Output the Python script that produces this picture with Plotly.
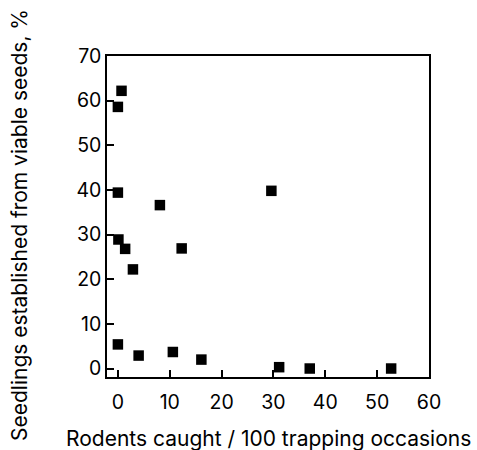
import plotly.graph_objects as go

rodents = [0.7, 0.0, 0.0, 8.1, 0.1, 1.4, 12.3, 2.9, 0.0, 4.0, 10.6, 16.1, 31.1, 29.6, 37.0, 52.7]
seedlings = [62.2, 58.6, 39.4, 36.6, 28.9, 26.8, 26.9, 22.2, 5.4, 2.9, 3.7, 2.0, 0.3, 39.8, 0.0, 0.0]
x_ticks = [0, 10, 20, 30, 40, 50, 60]
y_ticks = [0, 10, 20, 30, 40, 50, 60, 70]

font = "Inter, Liberation Sans, Arial, sans-serif"
tick_size = 19.5
title_size = 21

fig = go.Figure()
fig.add_trace(go.Scatter(
    x=rodents, y=seedlings, mode="markers",
    marker=dict(symbol="square", size=10.5, color="black", line=dict(width=0)),
    showlegend=False, hoverinfo="skip",
))

axis_common = dict(
    showline=True, linecolor="black", linewidth=1.5, mirror=True,
    ticks="inside", ticklen=7, tickwidth=1.5, tickcolor="black",
    showgrid=False, zeroline=False,
    tickfont=dict(family=font, size=tick_size, color="black"),
)

fig.update_layout(
    width=477, height=450,
    margin=dict(l=107, r=48, t=56, b=73, pad=0),
    paper_bgcolor="white", plot_bgcolor="white",
    xaxis=dict(range=[-2.1, 60], tickvals=x_ticks, ticktext=[str(v) for v in x_ticks],
               ticklabelstandoff=7, **axis_common),
    yaxis=dict(range=[-1.9, 70], tickvals=y_ticks, ticktext=[str(v) for v in y_ticks],
               ticklabelstandoff=0, **axis_common),
    annotations=[
        dict(text="Rodents caught / 100 trapping occasions", xref="paper", yref="paper",
             x=0.5, y=0, xanchor="center", yanchor="middle", yshift=-61,
             showarrow=False, font=dict(family=font, size=title_size, color="black")),
        dict(text="Seedlings established from viable seeds, %", xref="paper", yref="paper",
             x=0, y=0.5, xanchor="center", yanchor="middle", xshift=-88, yshift=-8.5,
             textangle=-90, showarrow=False, font=dict(family=font, size=title_size, color="black")),
    ],
)

fig.write_html("out.html")
